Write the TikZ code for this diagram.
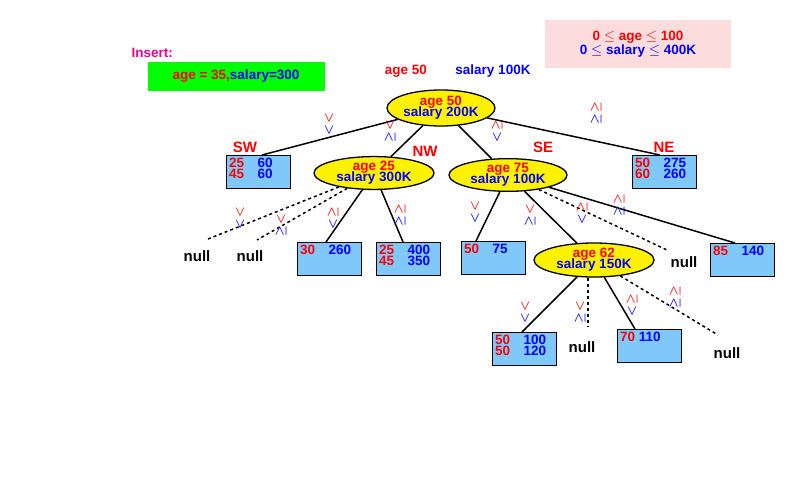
\documentclass[tikz,border=0pt]{standalone}
\usepackage{amsmath}
\usepackage{amssymb}
\usepackage{fontspec}
\setmainfont{Liberation Sans}
\usetikzlibrary{shapes.geometric}
\definecolor{cred}{RGB}{255,0,0}
\definecolor{cblue}{RGB}{0,0,255}
\definecolor{boxblue}{RGB}{128,200,250}
\definecolor{pinkbg}{RGB}{252,220,220}
\tikzset{
  every node/.style={font=\bfseries\fontsize{13.5}{14}\selectfont},
  split/.style={draw, line width=1.3pt, ellipse, fill=yellow, inner sep=0pt, minimum width=108pt, minimum height=36pt, align=center},
  leaf/.style={draw, line width=1.3pt, fill=boxblue, minimum width=64pt, minimum height=33pt, anchor=north west, inner sep=0pt},
  ltxt/.style={anchor=north west, align=left, inner sep=3pt},
  nul/.style={font=\bfseries\fontsize{15}{16}\selectfont},
  quad/.style={text=cred, font=\bfseries\fontsize{15}{16}\selectfont},
  tree/.style={line width=1.5pt},
  dtree/.style={line width=1.5pt, dashed},
  cmp/.style={rotate=90, inner sep=0pt, font=\bfseries\fontsize{12}{12}\selectfont},
}
% rotated comparison label: #1 red (top), #2 blue (bottom)
\newcommand{\cmplabel}[3]{\node[cmp] at (#1) {\color{cblue}$\boldsymbol{#3}$\,\color{cred}$\boldsymbol{#2}$};}
\begin{document}
\begin{tikzpicture}[x=1pt,y=-1pt]
\useasboundingbox[fill=white] (0,0) rectangle (800,482);
% header
\node[fill=pinkbg, minimum width=186pt, minimum height=48pt, align=center] (range) at (638,44)
  {\color{cred}0 $\le$ age $\le$ 100\\ \color{cblue}0 $\le$ salary $\le$ 400K};
\node[text=magenta, anchor=west] (ins) at (128,53) {Insert:};
\node[fill=green, minimum width=177pt, minimum height=29pt] (pt) at (236,76)
  {\color{cred}age = 35,\color{cblue}salary=300};
\node[text=cred] (ta) at (406,71) {age 50};
\node[text=cblue] (ts) at (493,71) {salary 100K};
% splitting nodes
\node[split] (root) at (441,108) {\color{cred}age 50\\[-3pt]\color{cblue}salary 200K};
\node[split, minimum width=120pt, minimum height=32pt] (nw) at (374,173) {\color{cred}age 25\\[-3pt]\color{cblue}salary 300K};
\node[split, minimum width=118pt, minimum height=32pt] (se) at (508,175) {\color{cred}age 75\\[-3pt]\color{cblue}salary 100K};
\node[split, minimum width=120pt, minimum height=34pt] (s62) at (594,260) {\color{cred}age 62\\[-3pt]\color{cblue}salary 150K};
% leaves
\node[leaf] (sw) at (226,155) {};
\node[ltxt] at (sw.north west) {\color{cred}25\quad\color{cblue}60\\[-3pt]\color{cred}45\quad\color{cblue}60};
\node[leaf] (ne) at (632,155) {};
\node[ltxt] at (ne.north west) {\color{cred}50\quad\color{cblue}275\\[-3pt]\color{cred}60\quad\color{cblue}260};
\node[leaf] (l30) at (297,242) {};
\node[ltxt] at (l30.north west) {\color{cred}30\quad\color{cblue}260};
\node[leaf] (l25) at (376,242) {};
\node[ltxt] at (l25.north west) {\color{cred}25\quad\color{cblue}400\\[-3pt]\color{cred}45\quad\color{cblue}350};
\node[leaf] (l50) at (461,241) {};
\node[ltxt] at (l50.north west) {\color{cred}50\quad\color{cblue}75};
\node[leaf] (l85) at (710,243) {};
\node[ltxt] at (l85.north west) {\color{cred}85\quad\color{cblue}140};
\node[leaf] (l5010) at (492,332) {};
\node[ltxt] at (l5010.north west) {\color{cred}50\quad\color{cblue}100\\[-3pt]\color{cred}50\quad\color{cblue}120};
\node[leaf] (l70) at (617,329) {};
\node[ltxt] at (l70.north west) {\color{cred}70\;\color{cblue}110};
% nulls
\node[nul] (n1) at (197,256) {null};
\node[nul] (n2) at (250,256) {null};
\node[nul] (n3) at (684,262) {null};
\node[nul] (n4) at (582,347) {null};
\node[nul] (n5) at (727,353) {null};
\coordinate (e1) at (208,239);
\coordinate (e2) at (257,240);
\coordinate (e3) at (667,250);
\coordinate (e4) at (588,326);
\coordinate (e5) at (718,335);
% quadrant labels
\node[quad] (qsw) at (245,147) {SW};
\node[quad] (qnw) at (425,151) {NW};
\node[quad] (qse) at (543,147) {SE};
\node[quad] (qne) at (664,147) {NE};
% edges
\draw[tree] (root) -- (sw.north west -| 262,155);
\draw[tree] (root) -- (nw);
\draw[tree] (root) -- (se);
\draw[tree] (root) -- (ne.north west -| 660,155);
\draw[dtree] (nw) -- (e1);
\draw[dtree] (nw) -- (e2);
\draw[tree] (nw) -- (l30.north west -| 326,242);
\draw[tree] (nw) -- (l25.north west -| 403,242);
\draw[tree] (se) -- (l50.north west -| 476,241);
\draw[tree] (se) -- (s62);
\draw[dtree] (se) -- (e3);
\draw[tree] (se) -- (l85.north west -| 735,243);
\draw[tree] (s62) -- (l5010.north west -| 522,332);
\draw[dtree] (s62.south -| 588,0) -- (e4);
\draw[tree] (s62) -- (l70.north west -| 635,329);
\draw[dtree] (s62) -- (e5);
% comparison labels
\cmplabel{329,124}{<}{<}
\cmplabel{390,131}{<}{\geq}
\cmplabel{497,131}{\geq}{<}
\cmplabel{596,113}{\geq}{\geq}
\cmplabel{240,218}{<}{<}
\cmplabel{281,225}{<}{\geq}
\cmplabel{333,218}{\geq}{<}
\cmplabel{400,215}{\geq}{\geq}
\cmplabel{475,212}{<}{<}
\cmplabel{530,215}{<}{\geq}
\cmplabel{582,213}{\geq}{<}
\cmplabel{619,205}{\geq}{\geq}
\cmplabel{525,312}{<}{<}
\cmplabel{580,312}{<}{\geq}
\cmplabel{632,305}{\geq}{<}
\cmplabel{675,297}{\geq}{\geq}
\end{tikzpicture}
\end{document}
